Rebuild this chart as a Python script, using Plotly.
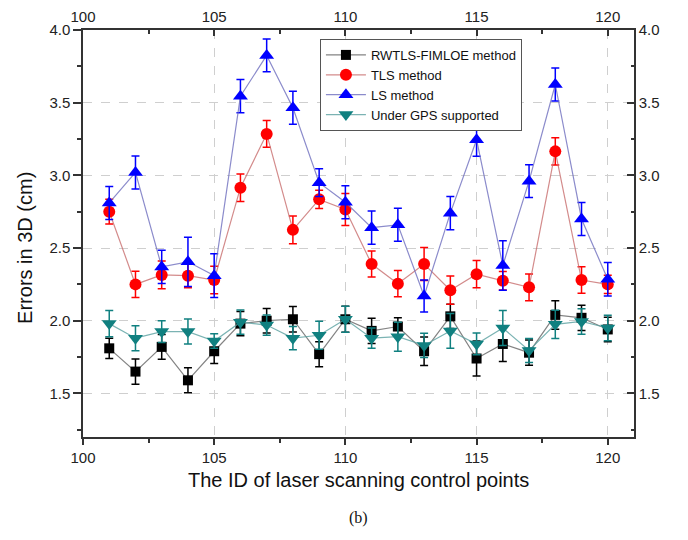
import plotly.graph_objects as go

ids = list(range(101, 121))

rwtls = [1.81, 1.65, 1.82, 1.59, 1.79, 1.98, 2.00, 2.01, 1.77, 2.01,
         1.93, 1.96, 1.79, 2.03, 1.74, 1.84, 1.78, 2.04, 2.02, 1.94]
rwtls_err = [0.07, 0.087, 0.085, 0.086, 0.085, 0.083, 0.084, 0.087, 0.086, 0.089,
             0.087, 0.06, 0.098, 0.084, 0.12, 0.12, 0.087, 0.098, 0.087, 0.084]

tls = [2.75, 2.25, 2.315, 2.31, 2.28, 2.915, 3.285, 2.625, 2.835, 2.765,
       2.39, 2.255, 2.39, 2.21, 2.32, 2.275, 2.23, 3.165, 2.28, 2.25]
tls_err = [0.085, 0.09, 0.095, 0.083, 0.095, 0.094, 0.092, 0.096, 0.063, 0.11,
           0.09, 0.09, 0.114, 0.097, 0.094, 0.063, 0.092, 0.094, 0.091, 0.063]

ls = [2.81, 3.02, 2.37, 2.405, 2.31, 3.545, 3.825, 3.465, 2.95, 2.815,
      2.64, 2.66, 2.17, 2.74, 3.245, 2.38, 2.96, 3.625, 2.70, 2.285]
ls_err = [0.113, 0.113, 0.114, 0.17, 0.15, 0.114, 0.113, 0.113, 0.095, 0.114,
          0.114, 0.114, 0.11, 0.114, 0.114, 0.17, 0.113, 0.114, 0.114, 0.115]

gps = [1.98, 1.88, 1.925, 1.925, 1.86, 1.99, 1.97, 1.88, 1.90, 2.01,
       1.88, 1.89, 1.83, 1.93, 1.84, 1.95, 1.795, 1.975, 1.995, 1.95]
gps_err = [0.09, 0.086, 0.075, 0.086, 0.05, 0.083, 0.07, 0.08, 0.097, 0.09,
           0.07, 0.1, 0.083, 0.12, 0.075, 0.12, 0.083, 0.097, 0.088, 0.088]

x_ticks = [100, 105, 110, 115, 120]
y_ticks = [1.5, 2.0, 2.5, 3.0, 3.5, 4.0]
y_tick_text = ["1.5", "2.0", "2.5", "3.0", "3.5", "4.0"]

FONT = "Liberation Sans, Arial, sans-serif"

series = [
    ("RWTLS-FIMLOE method", rwtls, rwtls_err, "#000000", "rgba(100,100,100,0.8)", "square", 10),
    ("TLS method", tls, tls_err, "#ff0000", "rgba(200,110,110,0.8)", "circle", 12),
    ("LS method", ls, ls_err, "#0000ff", "rgba(110,110,190,0.8)", "triangle-up", 13),
    ("Under GPS supported", gps, gps_err, "#108080", "rgba(90,160,160,0.8)", "triangle-down", 13),
]

fig = go.Figure()
for name, vals, errs, col, lcol, sym, size in series:
    fig.add_trace(go.Scatter(
        x=ids, y=vals, name=name, mode="lines+markers",
        line=dict(color=lcol, width=1.2),
        marker=dict(symbol=sym, size=size, color=col),
        error_y=dict(type="data", array=errs, visible=True, color=col,
                     thickness=1.5, width=4),
    ))

# invisible trace to anchor the top/right axes
fig.add_trace(go.Scatter(x=[ids[0]], y=[rwtls[0]], xaxis="x2", yaxis="y2",
                         mode="markers", marker=dict(opacity=0),
                         showlegend=False, hoverinfo="skip"))

axis_common = dict(showline=True, linecolor="#333333", linewidth=1.5, automargin=False,
                   tickcolor="#333333", tickfont=dict(family=FONT, size=15, color="#222222"),
                   zeroline=False)

# the page body adds an 8px offset at top-left, so shift the figure accordingly
fig.update_layout(
    width=680, height=532,
    margin=dict(l=75, r=54, t=22, b=103),
    paper_bgcolor="white", plot_bgcolor="white",
    font=dict(family=FONT, size=15, color="#222222"),
    xaxis=dict(range=[100, 121], tickvals=x_ticks, ticks="outside", ticklen=6, tickwidth=1.5,
               showgrid=True, gridcolor="#cfcfcf", griddash="dash", gridwidth=1,
               minor=dict(dtick=2.5, tick0=100, ticks="outside", ticklen=4, tickwidth=1.5,
                          tickcolor="#333333", showgrid=False),
               **axis_common),
    yaxis=dict(range=[1.2, 4.0], tickvals=y_ticks, ticktext=y_tick_text, ticks="outside",
               ticklen=8, tickwidth=1.5,
               showgrid=True, gridcolor="#cfcfcf", griddash="dash", gridwidth=1,
               minor=dict(dtick=0.25, tick0=1.0, ticks="outside", ticklen=4, tickwidth=1.5,
                          tickcolor="#333333", showgrid=False),
               **axis_common),
    xaxis2=dict(range=[100, 121], tickvals=x_ticks, overlaying="x", side="top",
                ticks="inside", ticklen=6, tickwidth=1.5, showgrid=False,
                minor=dict(dtick=2.5, tick0=100, ticks="inside", ticklen=4, tickwidth=1.5,
                           tickcolor="#333333", showgrid=False),
                **axis_common),
    yaxis2=dict(range=[1.2, 4.0], tickvals=y_ticks, ticktext=y_tick_text, overlaying="y",
                side="right", ticks="inside", ticklen=7, tickwidth=1.5, showgrid=False,
                minor=dict(dtick=0.25, tick0=1.0, ticks="inside", ticklen=3, tickwidth=1.5,
                           tickcolor="#333333", showgrid=False),
                **axis_common),
    legend=dict(x=0.43, y=0.978, xanchor="left", yanchor="top",
                bgcolor="white", bordercolor="#555555", borderwidth=1,
                font=dict(family=FONT, size=13, color="#111111"),
                tracegroupgap=0, itemwidth=40),
    showlegend=True,
)

fig.add_annotation(text="The ID of laser scanning control points", xref="paper", yref="paper",
                   x=0.5, y=-0.105, xanchor="center", yanchor="middle", showarrow=False,
                   font=dict(family=FONT, size=20, color="#111111"))
fig.add_annotation(text="Errors in 3D (cm)", xref="paper", yref="paper",
                   x=-0.105, y=0.465, xanchor="center", yanchor="middle", showarrow=False,
                   textangle=-90, font=dict(family=FONT, size=20, color="#111111"))
fig.add_annotation(text="(b)", xref="paper", yref="paper",
                   x=0.5, y=-0.2, xanchor="center", yanchor="middle", showarrow=False,
                   font=dict(family="Liberation Serif, Times New Roman, serif", size=16, color="#111111"))

fig.write_html("out.html")
